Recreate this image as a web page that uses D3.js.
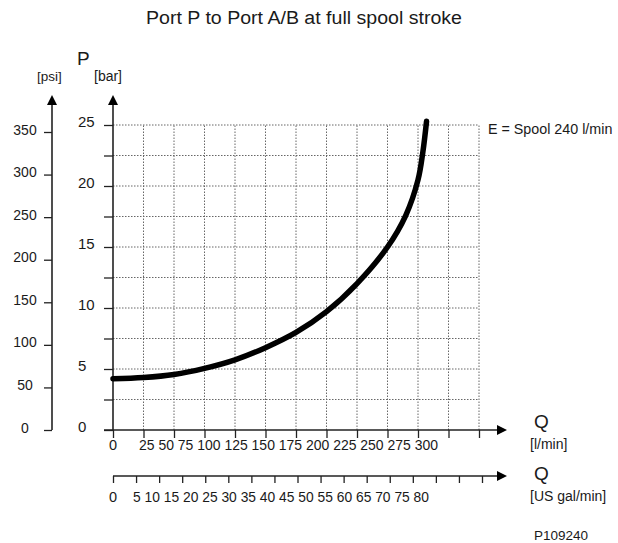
<!DOCTYPE html>
<html>
<head>
<meta charset="utf-8">
<script src="https://cdn.jsdelivr.net/npm/d3@7"></script>
<style>
  body { margin: 0; background: #fff; }
  svg text { font-family: "Liberation Sans", Arial, sans-serif; fill: #1a1a1a; }
</style>
</head>
<body>
<div id="chart"></div>
<script>
// tick values of the four axes
const flowTicks = [0, 25, 50, 75, 100, 125, 150, 175, 200, 225, 250, 275, 300];
const galTicks = [0, 5, 10, 15, 20, 25, 30, 35, 40, 45, 50, 55, 60, 65, 70, 75, 80];
const barTicks = [0, 2.5, 5, 7.5, 10, 12.5, 15, 17.5, 20, 22.5, 25];
const psiTicks = [0, 50, 100, 150, 200, 250, 300, 350];

// curve E
const flowLpm = [0, 25, 50, 75, 100, 125, 150, 175, 200, 225, 240, 250, 254, 257];
const pressureBar = [4.2, 4.3, 4.55, 5.05, 5.75, 6.75, 8.0, 9.7, 12.0, 15.0, 17.6, 20.5, 22.8, 25.3];

const width = 618;
const height = 543;

const svg = d3.select("#chart")
  .append("svg")
  .attr("width", width)
  .attr("height", height);

// scales
const x = d3.scaleLinear().domain([0, 300]).range([113, 479]);
const xGal = d3.scaleLinear().domain([0, 80]).range([113, 482]);
const y = d3.scaleLinear().domain([0, 25]).range([430, 125]);
const yPsi = d3.scaleLinear().domain([0, 350]).range([430, 132]);

const axisColor = "#222";

// arrow head
svg.append("defs").append("marker")
  .attr("id", "arrow")
  .attr("viewBox", "0 0 10 10")
  .attr("refX", 0)
  .attr("refY", 5)
  .attr("markerWidth", 10)
  .attr("markerHeight", 10)
  .attr("markerUnits", "userSpaceOnUse")
  .attr("orient", "auto")
  .append("path")
  .attr("d", "M0,0 L10,5 L0,10 Z")
  .attr("fill", "#000");

// title
svg.append("text")
  .attr("x", 146)
  .attr("y", 24)
  .attr("textLength", 316)
  .attr("lengthAdjust", "spacingAndGlyphs")
  .style("font-size", "18px")
  .text("Port P to Port A/B at full spool stroke");

// grid
const grid = svg.append("g")
  .attr("stroke", "#666")
  .attr("stroke-width", 1)
  .attr("stroke-dasharray", "1.5,1.5");

grid.selectAll("line.v")
  .data(flowTicks.slice(1))
  .join("line")
  .attr("class", "v")
  .attr("x1", d => x(d)).attr("x2", d => x(d))
  .attr("y1", y(0)).attr("y2", y(25));

grid.selectAll("line.h")
  .data(barTicks.slice(1))
  .join("line")
  .attr("class", "h")
  .attr("x1", x(0)).attr("x2", x(300))
  .attr("y1", d => y(d)).attr("y2", d => y(d));

// bar axis
const barAxis = svg.append("g")
  .attr("transform", `translate(${x(0)},0)`)
  .call(d3.axisLeft(y).tickValues(barTicks).tickSize(9)
    .tickFormat(d => d % 5 === 0 ? d : ""));
barAxis.select(".domain").remove();
barAxis.selectAll(".tick line").attr("stroke", axisColor).attr("stroke-width", 1.3);
barAxis.selectAll(".tick text")
  .attr("x", -35)
  .attr("dy", "0.1em")
  .attr("text-anchor", "start")
  .style("font-size", "15px");

svg.append("line")
  .attr("x1", x(0)).attr("x2", x(0))
  .attr("y1", y(0)).attr("y2", 105)
  .attr("stroke", axisColor).attr("stroke-width", 1.6)
  .attr("marker-end", "url(#arrow)");

// psi axis
const psiAxis = svg.append("g")
  .attr("transform", "translate(52,0)")
  .call(d3.axisLeft(yPsi).tickValues(psiTicks).tickSize(8));
psiAxis.select(".domain").remove();
psiAxis.selectAll(".tick line").attr("stroke", axisColor).attr("stroke-width", 1.3);
psiAxis.selectAll(".tick text")
  .attr("x", -27)
  .attr("dy", "0.15em")
  .attr("text-anchor", "middle")
  .style("font-size", "14px");

svg.append("line")
  .attr("x1", 52).attr("x2", 52)
  .attr("y1", yPsi(0)).attr("y2", 105)
  .attr("stroke", axisColor).attr("stroke-width", 1.6)
  .attr("marker-end", "url(#arrow)");

// flow axis (l/min)
const flowAxis = svg.append("g")
  .attr("transform", `translate(0,${y(0)})`)
  .call(d3.axisBottom(x).tickValues(flowTicks).tickSize(8).tickFormat(""));
flowAxis.select(".domain").remove();
flowAxis.selectAll(".tick line").attr("stroke", axisColor).attr("stroke-width", 1.3);

svg.append("line")
  .attr("x1", x(0) - 9).attr("x2", 497)
  .attr("y1", y(0)).attr("y2", y(0))
  .attr("stroke", axisColor).attr("stroke-width", 1.6)
  .attr("marker-end", "url(#arrow)");

// the tick labels sit packed together under the axis
svg.append("text")
  .attr("x", x(0)).attr("y", 450)
  .attr("text-anchor", "middle")
  .style("font-size", "14.5px")
  .text(flowTicks[0]);
svg.append("text")
  .attr("x", 139).attr("y", 450)
  .attr("textLength", 299)
  .attr("lengthAdjust", "spacingAndGlyphs")
  .style("font-size", "14.5px")
  .text(flowTicks.slice(1).join(" "));

// flow axis (US gal/min)
const galY = 476;
const galAxis = svg.append("g")
  .attr("transform", `translate(0,${galY})`)
  .call(d3.axisBottom(xGal).tickValues(galTicks).tickSize(7).tickFormat(""));
galAxis.select(".domain").remove();
galAxis.selectAll(".tick line").attr("stroke", axisColor).attr("stroke-width", 1.3);

svg.append("line")
  .attr("x1", xGal(0)).attr("x2", 497)
  .attr("y1", galY).attr("y2", galY)
  .attr("stroke", axisColor).attr("stroke-width", 1.6)
  .attr("marker-end", "url(#arrow)");

svg.append("text")
  .attr("x", xGal(0)).attr("y", 502)
  .attr("text-anchor", "middle")
  .style("font-size", "14.5px")
  .text(galTicks[0]);
svg.append("text")
  .attr("x", 133).attr("y", 502)
  .attr("textLength", 296)
  .attr("lengthAdjust", "spacingAndGlyphs")
  .style("font-size", "14.5px")
  .text(galTicks.slice(1).join(" "));

// axis names and units
const label = (tx, ty, size, str) => svg.append("text")
  .attr("x", tx).attr("y", ty)
  .style("font-size", size)
  .text(str);

label(77, 65, "19px", "P");
label(37, 81, "13.5px", "[psi]");
label(94, 81, "14px", "[bar]");
label(534, 428, "19px", "Q");
label(530, 449, "14px", "[l/min]");
label(534, 480, "19px", "Q");
label(530, 501, "14px", "[US gal/min]");
label(534, 540, "13.5px", "P109240");
label(488, 134, "14.3px", "E = Spool 240 l/min");

// curve
const line = d3.line()
  .x((d, i) => x(flowLpm[i]))
  .y(d => y(d))
  .curve(d3.curveCatmullRom.alpha(0.5));

svg.append("path")
  .datum(pressureBar)
  .attr("d", line)
  .attr("fill", "none")
  .attr("stroke", "#000")
  .attr("stroke-width", 5.5)
  .attr("stroke-linecap", "round");
</script>
</body>
</html>
